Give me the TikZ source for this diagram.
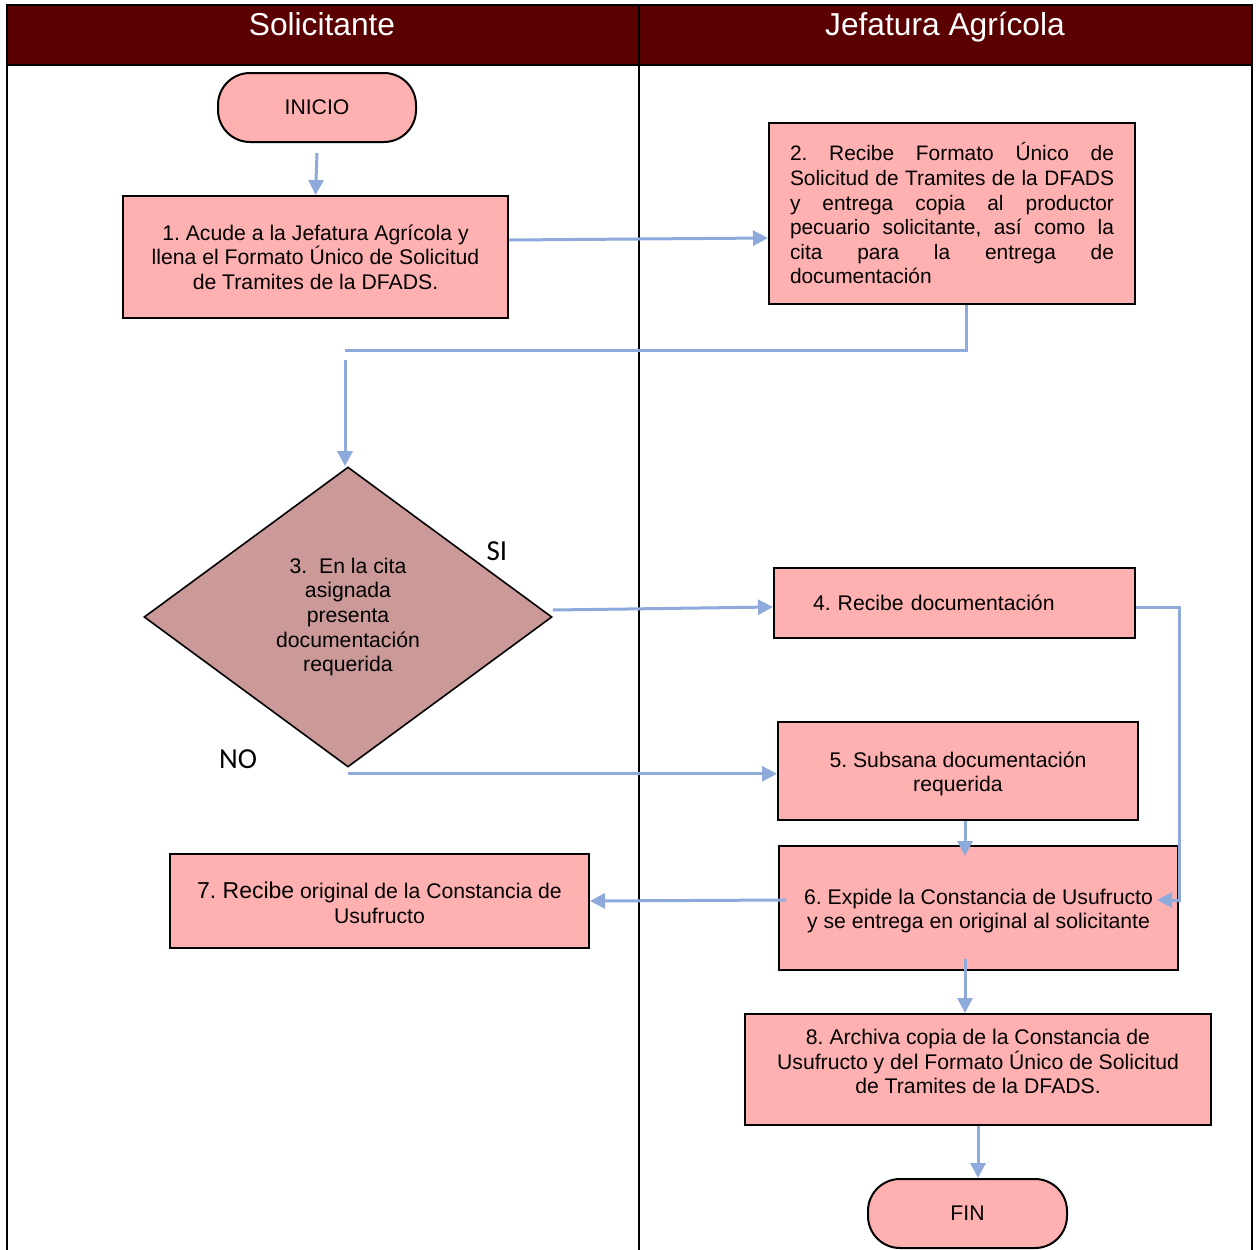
\documentclass[tikz,border=0pt]{standalone}
\usepackage{fontspec}
\setmainfont{Liberation Sans}
\newfontfamily\calib{Carlito}
\usetikzlibrary{arrows.meta,shapes.geometric}
\definecolor{hdr}{HTML}{5A0000}
\definecolor{boxpink}{HTML}{FFB0B0}
\definecolor{diapink}{HTML}{CC9999}
\definecolor{arrc}{HTML}{8EAADB}
\frenchspacing
\newcommand{\jl}[1]{\makebox[324pt][l]{#1}}
\begin{document}
\begin{tikzpicture}[x=1pt,y=-1pt,
  box/.style={draw=black, line width=2pt, fill=boxpink, inner sep=0pt, align=center,
    font=\fontsize{21.2}{24.6}\selectfont},
  term/.style={box, rounded corners=32pt},
  txt/.style={inner sep=0pt, align=center, font=\fontsize{21.2}{24.6}\selectfont},
  conn/.style={draw=arrc, line width=3pt},
  arr/.style={conn, -{Triangle[length=15pt,width=15pt]}},
  hdrtext/.style={text=white, inner sep=0pt, anchor=base, font=\fontsize{31.7}{36}\selectfont},
  lbl/.style={inner sep=0pt, font=\calib\fontsize{29}{34}\selectfont}]
\useasboundingbox (0,0) rectangle (1259,1250);
\fill[white] (0,0) rectangle (1259,1250);
% frame and header
\draw[line width=2pt, fill=hdr] (7,5) rectangle (1252,65);
\draw[line width=2pt] (7,5) -- (7,1252);
\draw[line width=2pt] (1252,5) -- (1252,1252);
\draw[line width=1.6pt] (639,5) -- (639,1252);
\node[hdrtext] (h1) at (322,35) {Solicitante};
\node[hdrtext] (h2) at (945,35) {Jefatura Agrícola};
% nodes
\node[term, minimum width=198pt, minimum height=69pt] (inicio) at (317,107.5) {INICIO};
\node[box, minimum width=385pt, minimum height=122pt] (b1) at (315.5,257)
  {1. Acude a la Jefatura Agrícola y\\llena el Formato Único de Solicitud\\de Tramites de la DFADS.};
\node[box, minimum width=366pt, minimum height=181pt, text width=324pt, align=left,
  font=\fontsize{20.9}{24.6}\selectfont] (b2) at (952,213.5)
  {\jl{2.\hfill Recibe\hfill Formato\hfill Único\hfill de}\\
   \jl{Solicitud\hfill de\hfill Tramites\hfill de\hfill la\hfill DFADS}\\
   \jl{y\hfill entrega\hfill copia\hfill al\hfill productor}\\
   \jl{pecuario\hfill solicitante,\hfill así\hfill como\hfill la}\\
   \jl{cita\hfill para\hfill la\hfill entrega\hfill de}\\
   documentación};
\node[draw=black, line width=1.6pt, fill=diapink, shape=diamond, minimum width=408pt,
  minimum height=300pt, inner sep=0pt, align=center,
  font=\fontsize{21.2}{24.6}\selectfont] (dia) at (348,617)
  {3.\ \ En la cita\\asignada\\presenta\\documentación\\requerida};
\node[lbl] (si) at (497,551) {SI};
\node[lbl] (no) at (238,759) {NO};
\node[box, minimum width=361pt, minimum height=70pt, text width=283pt, inner xsep=39pt,
  align=left] (b4) at (954.5,603) {4. Recibe documentación};
\node[box, minimum width=360pt, minimum height=98pt] (b5) at (958,771) {};
\node[txt] (t5) at (958,774) {5. Subsana documentación\\requerida};
\node[box, minimum width=399pt, minimum height=124pt] (b6) at (978.5,908) {};
\node[txt] (t6) at (978.5,911) {6. Expide la Constancia de Usufructo\\y se entrega en original al solicitante};
\node[box, minimum width=419pt, minimum height=94pt] (b7) at (379.5,901) {};
\node[txt] (t7) at (379.5,903)
  {{\fontsize{23}{24.6}\selectfont 7. Recibe} original de la Constancia de\\Usufructo};
\node[box, minimum width=466pt, minimum height=111pt] (b8) at (978,1069.5) {};
\node[txt] (t8) at (978,1061.5)
  {8. Archiva copia de la Constancia de\\Usufructo y del Formato Único de Solicitud\\de Tramites de la DFADS.};
\node[term, minimum width=199pt, minimum height=69pt] (fin) at (967.5,1213.5) {FIN};
% connectors
\coordinate (c1) at (345,350);
\coordinate (c2) at (345,360);
\coordinate (c3) at (1157,900);
\coordinate (c4) at (965,856);
\draw[arr] ([yshift=-10pt]inicio.south) -- (b1.north);
\draw[arr] ([yshift=17pt]b1.east) -- ([yshift=-24.5pt]b2.west);
\draw[conn] ([xshift=14pt]b2.south) |- (c1);
\draw[arr] (c2) -- (c2 |- dia.north);
\draw[arr] ([yshift=7pt]dia.east) -- ([yshift=-4pt]b4.west);
\draw[arr] ([yshift=-6pt]dia.south) -- ([yshift=-6pt]dia.south -| b5.west);
\draw[arr] ([yshift=-4pt]b4.east) -| ([yshift=8pt]b6.east) -- (c3);
\draw[arr] ([xshift=7pt]b5.south) -- (c4);
\draw[arr] ([xshift=8pt,yshift=8pt]b6.west) -- (b7.east);
\draw[arr] ([xshift=-13.5pt,yshift=12pt]b6.south) -- ([xshift=-13.5pt]b6.south |- b8.north);
\draw[arr] (b8.south) -- (b8.south |- fin.north);
\end{tikzpicture}
\end{document}
